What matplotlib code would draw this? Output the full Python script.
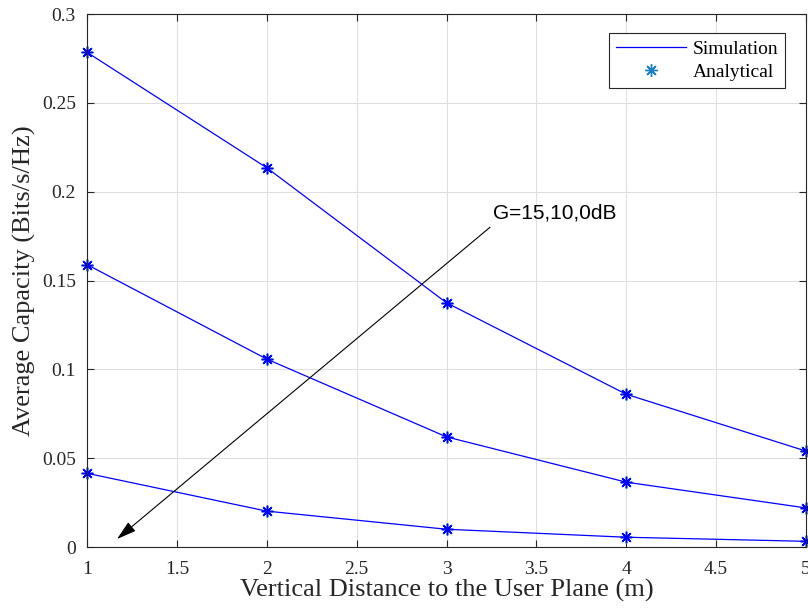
import matplotlib
matplotlib.use("Agg")
import matplotlib.pyplot as plt
from matplotlib.lines import Line2D

plt.rcParams['font.family'] = ['Liberation Serif', 'DejaVu Serif']
plt.rcParams['mathtext.fontset'] = 'stix'

distance = [1, 2, 3, 4, 5]
# average capacity for G = 15, 10, 0 dB
cap_g15 = [0.2785, 0.2135, 0.1375, 0.0860, 0.0540]
cap_g10 = [0.1590, 0.1058, 0.0620, 0.0365, 0.0220]
cap_g0 = [0.0415, 0.0202, 0.0100, 0.0055, 0.0032]
curves = [cap_g15, cap_g10, cap_g0]

sim_color = '#0000FF'
ana_color = '#1a7fc4'
axis_color = '#262626'
asterisk = (8, 2, 0)

fig = plt.figure(figsize=(8.08, 6.09), dpi=100)
ax = fig.add_axes([0.1077, 0.1018, 0.8898, 0.875])

for cap in curves:
    ax.plot(distance, cap, linestyle='none', marker=asterisk, color=ana_color,
            markersize=9, markeredgewidth=1.0, clip_on=False)
    ax.plot(distance, cap, '-', color=sim_color, linewidth=0.9,
            marker=asterisk, markersize=8, markeredgewidth=1.0, clip_on=False)

ax.set_xlim(1, 5)
ax.set_ylim(0, 0.3)
ax.set_xticks([1, 1.5, 2, 2.5, 3, 3.5, 4, 4.5, 5])
ax.set_xticklabels(['1', '1.5', '2', '2.5', '3', '3.5', '4', '4.5', '5'])
ax.set_yticks([0, 0.05, 0.1, 0.15, 0.2, 0.25, 0.3])
ax.set_yticklabels(['0', '0.05', '0.1', '0.15', '0.2', '0.25', '0.3'])

ax.grid(True, color='#dfdfdf', linewidth=0.8)
ax.set_axisbelow(True)
ax.tick_params(direction='in', length=5, width=0.8, colors=axis_color,
               labelsize=14, top=True, right=True)
ax.tick_params(axis='x', pad=10)
ax.tick_params(axis='y', pad=8)
for sp in ax.spines.values():
    sp.set_color(axis_color)
    sp.set_linewidth(0.8)

ax.set_xlabel('Vertical Distance to the User Plane (m)', fontsize=19, color=axis_color, labelpad=1)
ax.set_ylabel('Average Capacity (Bits/s/Hz)', fontsize=19, color=axis_color, labelpad=4)

ax.annotate('', xy=(1.167, 0.0045), xytext=(3.242, 0.180),
            arrowprops=dict(arrowstyle='-|>,head_length=1.2,head_width=0.35',
                            color='black', linewidth=0.8, shrinkA=0, shrinkB=0))
ax.text(3.26, 0.188, 'G=15,10,0dB', fontsize=15, family=['Liberation Sans', 'DejaVu Sans'],
        va='center', ha='left')

handles = [Line2D([], [], color=sim_color, linewidth=0.9),
           Line2D([], [], color=ana_color, linestyle='none', marker=asterisk, markersize=9)]
leg = ax.legend(handles, ['Simulation', 'Analytical'], loc='upper right',
                bbox_to_anchor=(0.9708, 0.9643), fontsize=14, fancybox=False,
                edgecolor=axis_color, framealpha=1, handlelength=3.6,
                borderpad=0.35, labelspacing=0.3, handletextpad=0.35,
                borderaxespad=0)
leg.get_frame().set_linewidth(0.8)

fig.savefig('out.png', dpi=100)
